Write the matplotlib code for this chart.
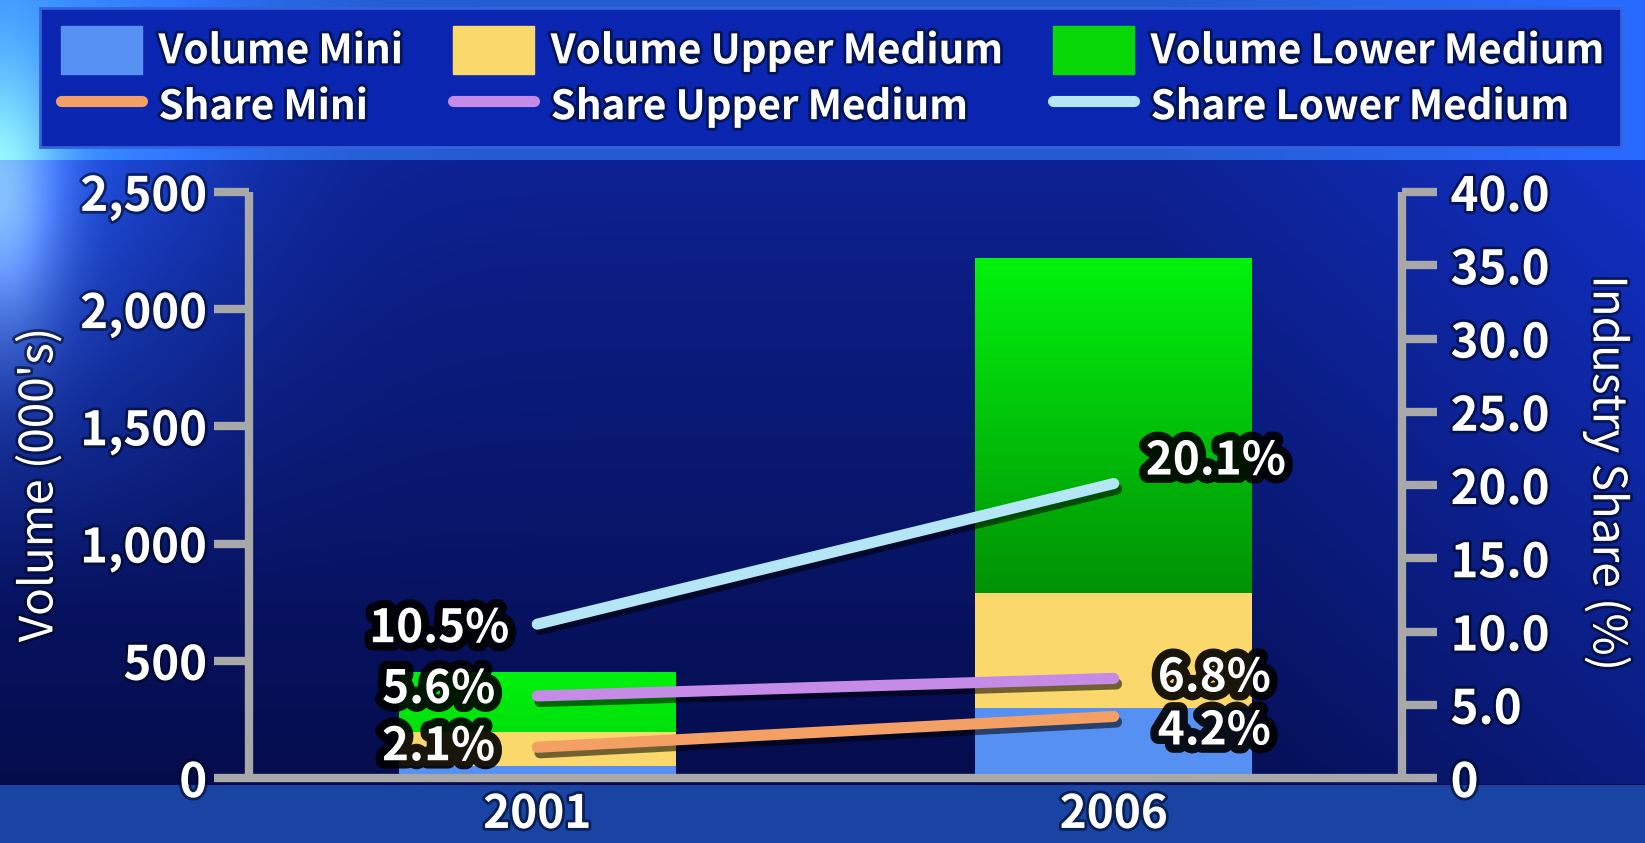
import numpy as np
import matplotlib
matplotlib.use('Agg')
import matplotlib.pyplot as plt
import matplotlib.patheffects as pe
from matplotlib.patches import Patch, Rectangle
from matplotlib.lines import Line2D

# data
years = ['2001', '2006']
vol_mini = [50, 300]
vol_upper = [145, 490]
vol_lower = [255, 1425]
share_mini = [2.1, 4.2]
share_upper = [5.6, 6.8]
share_lower = [10.5, 20.1]
vol_ticks = [0, 500, 1000, 1500, 2000, 2500]
vol_ticklabels = ['0', '500', '1,000', '1,500', '2,000', '2,500']
share_ticks = [0, 5, 10, 15, 20, 25, 30, 35, 40]
share_ticklabels = ['0', '5.0', '10.0', '15.0', '20.0', '25.0', '30.0', '35.0', '40.0']

plt.rcParams['font.family'] = ['Noto Sans CJK SC', 'DejaVu Sans']
plt.rcParams['font.weight'] = 'bold'

W, H = 1645, 843
fig = plt.figure(figsize=(W / 100, H / 100), dpi=100)

# ---- background gradient
bg = fig.add_axes([0, 0, 1, 1], zorder=-10)
yy, xx = np.mgrid[0:H, 0:W].astype(float)
top = np.array([0.14, 0.36, 0.82])
mid_top = np.array([0.05, 0.13, 0.57])
mid_bot = np.array([0.02, 0.05, 0.30])
bottom = np.array([0.10, 0.27, 0.64])
t = np.clip((yy - 160) / (778 - 160), 0, 1)[..., None]
img = mid_top * (1 - t) + mid_bot * t
img = np.where((yy < 160)[..., None], top, img)
img = np.where((yy > 784)[..., None], bottom, img)
# brighter on the left, lighter on the right
left = np.exp(-(xx / 230.0) ** 2)[..., None] * np.clip(1 - (yy - 150) / 450, 0, 1)[..., None]
img = img + left * np.array([0.08, 0.20, 0.35])
right = np.clip((xx - 1150) / 495, 0, 1)[..., None] * (yy < 784)[..., None]
img = img + right * np.array([0.02, 0.06, 0.20])
glow = np.exp(-((xx / 60.0) ** 2 + ((yy - 200) / 140.0) ** 2))[..., None]
img = img + glow * np.array([0.40, 0.45, 0.30])
img = np.clip(img, 0, 1)
bg.imshow(img, extent=[0, W, H, 0], aspect='auto')
bg.set_xlim(0, W)
bg.set_ylim(H, 0)
bg.axis('off')

# legend panel
fig.patches.append(Rectangle((40 / W, 1 - 147 / H), 1581 / W, 139 / H,
                             transform=fig.transFigure, facecolor='#0a26b0',
                             edgecolor='#3562dc', linewidth=2, zorder=-5))

# ---- main axes
ax = fig.add_axes([249 / W, 1 - 778 / H, 1153 / W, 586 / H])
ax.set_facecolor('none')
x = np.arange(len(years))
bw = 0.48
c_mini, c_upper = '#5590f2', '#fbd86c'
b1 = np.array(vol_mini)
b2 = b1 + np.array(vol_upper)
ax.bar(x, vol_mini, bw, color=c_mini, zorder=2)
ax.bar(x, vol_upper, bw, bottom=b1, color=c_upper, zorder=2)
# green segment, shaded darker with depth below its top
g_top, g_low = np.array([0.0, 0.95, 0.05]), np.array([0.0, 0.58, 0.02])
for xi, b0, h in zip(x, b2, vol_lower):
    depth = np.linspace(0, h, 100) / 1400.0
    shade = (g_top * (1 - depth[:, None]) + g_low * depth[:, None])[:, None, :]
    ax.imshow(np.clip(shade, 0, 1), extent=[xi - bw / 2, xi + bw / 2, b0, b0 + h], aspect='auto',
              origin='upper', zorder=2, interpolation='bilinear')
ax.set_xlim(-0.5, 1.5)
ax.set_ylim(0, 2500)

ax2 = ax.twinx()
ax2.set_ylim(0, 40)
line_c = ['#f4a064', '#c68be6', '#b4e6f6']
shadow = [pe.SimpleLineShadow(offset=(2, -4), shadow_color='k', alpha=0.55), pe.Normal()]
for s, c in zip([share_mini, share_upper, share_lower], line_c):
    ax2.plot(x, s, color=c, lw=8, solid_capstyle='round', zorder=3, path_effects=shadow)

gray = '#a8a8a8'
for a in (ax, ax2):
    for sp in a.spines.values():
        sp.set_visible(False)
ax.spines['left'].set_visible(True)
ax.spines['bottom'].set_visible(True)
ax2.spines['right'].set_visible(True)
for sp in [ax.spines['left'], ax.spines['bottom'], ax2.spines['right']]:
    sp.set_color(gray)
    sp.set_linewidth(6)
    sp.set_capstyle('butt')

txt_fx = [pe.withStroke(linewidth=4, foreground='#000820', alpha=0.6)]
ax.set_yticks(vol_ticks)
ax.set_yticklabels(vol_ticklabels)
ax.tick_params(axis='y', length=25, width=6, color=gray, pad=5, labelsize=34, labelcolor='white')
ax.set_xticks(x)
ax.set_xticklabels(years)
ax.tick_params(axis='x', length=0, pad=10, labelsize=33, labelcolor='white')
ax2.set_yticks(share_ticks)
ax2.set_yticklabels(share_ticklabels)
ax2.tick_params(axis='y', length=25, width=6, color=gray, pad=10, labelsize=34, labelcolor='white')
for lbl in ax.get_yticklabels() + ax.get_xticklabels() + ax2.get_yticklabels():
    lbl.set_path_effects(txt_fx)

ax.set_ylabel("Volume (000's)", fontsize=33, color='white', va='center', path_effects=txt_fx)
ax.yaxis.set_label_coords(-0.182, 0.5)
ax2.set_ylabel('Industry Share (%)', fontsize=33, color='white', rotation=270,
               va='center', path_effects=txt_fx)
ax2.yaxis.set_label_coords(1.178, 0.52)

# value labels
lab_fx = [pe.withStroke(linewidth=12, foreground='black', alpha=0.9)]
offs0 = [(-42, 0), (-42, 6), (-28, -5)]
offs1 = [(44, -15), (44, 0), (32, 22)]
for s, o0, o1 in zip([share_mini, share_upper, share_lower], offs0, offs1):
    ax2.annotate(f'{s[0]:.1f}%', (x[0], s[0]), xytext=o0, textcoords='offset pixels',
                 ha='right', va='center', fontsize=33, color='white', path_effects=lab_fx, zorder=5)
    ax2.annotate(f'{s[1]:.1f}%', (x[1], s[1]), xytext=o1, textcoords='offset pixels',
                 ha='left', va='center', fontsize=33, color='white', path_effects=lab_fx, zorder=5)

# legend
handles = [
    Patch(color=c_mini, label='Volume Mini'),
    Line2D([], [], color=line_c[0], lw=8, solid_capstyle='round', label='Share Mini'),
    Patch(color=c_upper, label='Volume Upper Medium'),
    Line2D([], [], color=line_c[1], lw=8, solid_capstyle='round', label='Share Upper Medium'),
    Patch(color='#08d808', label='Volume Lower Medium'),
    Line2D([], [], color=line_c[2], lw=8, solid_capstyle='round', label='Share Lower Medium'),
]
leg = fig.legend(handles=handles, ncol=3, loc='upper left', bbox_to_anchor=(61 / W, 1 - 26 / H),
                 frameon=False, fontsize=29, handlelength=2.0, handleheight=1.45,
                 handletextpad=0.42, labelspacing=0.2, columnspacing=1.25, borderpad=0,
                 borderaxespad=0)
for t_ in leg.get_texts():
    t_.set_color('white')
    t_.set_path_effects(txt_fx)

fig.savefig('out.png', dpi=100)
